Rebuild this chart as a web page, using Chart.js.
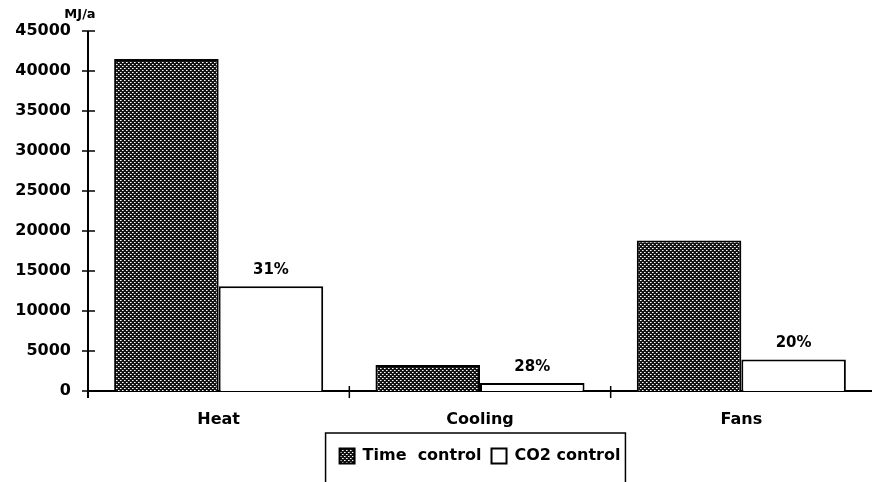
<!DOCTYPE html>
<html>
<head>
<meta charset="utf-8">
<script src="https://cdn.jsdelivr.net/npm/chart.js@4.4.0/dist/chart.umd.min.js"></script>
<style>
html,body{margin:0;padding:0;background:#fff;}
canvas{display:block;}
</style>
</head>
<body>
<canvas id="c" width="872" height="482"></canvas>
<script>
const categories = ['Heat', 'Cooling', 'Fans'];
const timeControl = [41500, 3250, 18800];
const co2Control = [13100, 1000, 3950];
const pctLabels = ['31%', '28%', '20%'];
const seriesNames = ['Time  control', 'CO2 control'];
const unitLabel = 'MJ/a';

const FONT = '"DejaVu Sans", sans-serif';

function makePattern() {
  const p = document.createElement('canvas');
  p.width = 4; p.height = 4;
  const g = p.getContext('2d');
  g.fillStyle = '#141414';
  g.fillRect(0, 0, 4, 4);
  g.fillStyle = '#ffffff';
  g.fillRect(0, 0, 1, 1);
  g.fillRect(2, 2, 1, 1);
  g.fillStyle = '#9a9a9a';
  g.fillRect(1, 0, 1, 1);
  g.fillRect(3, 2, 1, 1);
  return document.getElementById('c').getContext('2d').createPattern(p, 'repeat');
}
const pattern = makePattern();

const decorPlugin = {
  id: 'decor',
  afterDatasetsDraw(chart) {
    const ctx = chart.ctx;
    const ys = chart.scales.y, xs = chart.scales.x;
    ctx.save();
    ctx.strokeStyle = '#000';
    ctx.lineWidth = 2;
    const ax = ys.right;
    ctx.beginPath();
    ctx.moveTo(ax, ys.top);
    ctx.lineTo(ax, ys.bottom + 7);
    ctx.stroke();
    ys.ticks.forEach(t => {
      const py = ys.getPixelForValue(t.value);
      ctx.beginPath();
      ctx.lineWidth = 1.5;
      ctx.moveTo(ax - 6, py);
      ctx.lineTo(ax + 7, py);
      ctx.stroke();
    });
    for (let i = 1; i < categories.length; i++) {
      const px = (xs.getPixelForValue(i - 1) + xs.getPixelForValue(i)) / 2;
      ctx.beginPath();
      ctx.lineWidth = 1.5;
      ctx.moveTo(px, ys.bottom - 5);
      ctx.lineTo(px, ys.bottom + 7);
      ctx.stroke();
    }
    ctx.fillStyle = '#000';
    ctx.font = 'bold 15px ' + FONT;
    ctx.textAlign = 'center';
    ctx.textBaseline = 'middle';
    const meta = chart.getDatasetMeta(1);
    meta.data.forEach((bar, i) => {
      ctx.fillText(pctLabels[i], bar.x, bar.y - 16);
    });
    ctx.font = 'bold 13px ' + FONT;
    ctx.fillText(unitLabel, ax - 8, ys.top - 16);
    ctx.restore();
  },
  afterDraw(chart) {
    const lg = chart.legend;
    if (!lg || !lg.legendHitBoxes || !lg.legendHitBoxes.length) return;
    const hb = lg.legendHitBoxes;
    const left = Math.min(...hb.map(h => h.left)) - 14;
    const right = Math.max(...hb.map(h => h.left + h.width)) + 5;
    const top = lg.top - 5;
    const ctx = chart.ctx;
    ctx.save();
    ctx.strokeStyle = '#000';
    ctx.lineWidth = 1.5;
    ctx.beginPath();
    ctx.moveTo(left, chart.height + 2);
    ctx.lineTo(left, top);
    ctx.lineTo(right, top);
    ctx.lineTo(right, chart.height + 2);
    ctx.stroke();
    ctx.restore();
  }
};

new Chart(document.getElementById('c'), {
  type: 'bar',
  data: {
    labels: categories,
    datasets: [
      {
        label: seriesNames[0],
        data: timeControl,
        backgroundColor: pattern,
        borderColor: '#000',
        borderWidth: 2,
        categoryPercentage: 0.8,
        barPercentage: 1.0
      },
      {
        label: seriesNames[1],
        data: co2Control,
        backgroundColor: '#fff',
        borderColor: '#000',
        borderWidth: 2,
        categoryPercentage: 0.8,
        barPercentage: 1.0
      }
    ]
  },
  options: {
    responsive: false,
    animation: false,
    devicePixelRatio: 1,
    layout: { padding: { top: 31, left: 0, right: 0, bottom: 8 } },
    plugins: {
      tooltip: { enabled: false },
      legend: {
        position: 'bottom',
        fullSize: false,
        labels: {
          color: '#000',
          font: { family: FONT, size: 16, weight: 'bold' },
          boxWidth: 15,
          boxHeight: 15,
          padding: 10
        }
      }
    },
    scales: {
      x: {
        grid: { display: false, drawTicks: false },
        border: { display: true, color: '#000', width: 2 },
        ticks: {
          color: '#000',
          font: { family: FONT, size: 16, weight: 'bold' },
          padding: 19
        },
        afterFit(s) { s.height = 47; }
      },
      y: {
        min: 0,
        max: 45000,
        grid: { display: false, drawTicks: false },
        border: { display: false },
        ticks: {
          stepSize: 5000,
          color: '#000',
          font: { family: FONT, size: 16, weight: 'bold' },
          padding: 17,
          callback: v => String(v)
        },
        afterFit(s) { s.width = 88; }
      }
    }
  },
  plugins: [decorPlugin]
});
</script>
</body>
</html>
